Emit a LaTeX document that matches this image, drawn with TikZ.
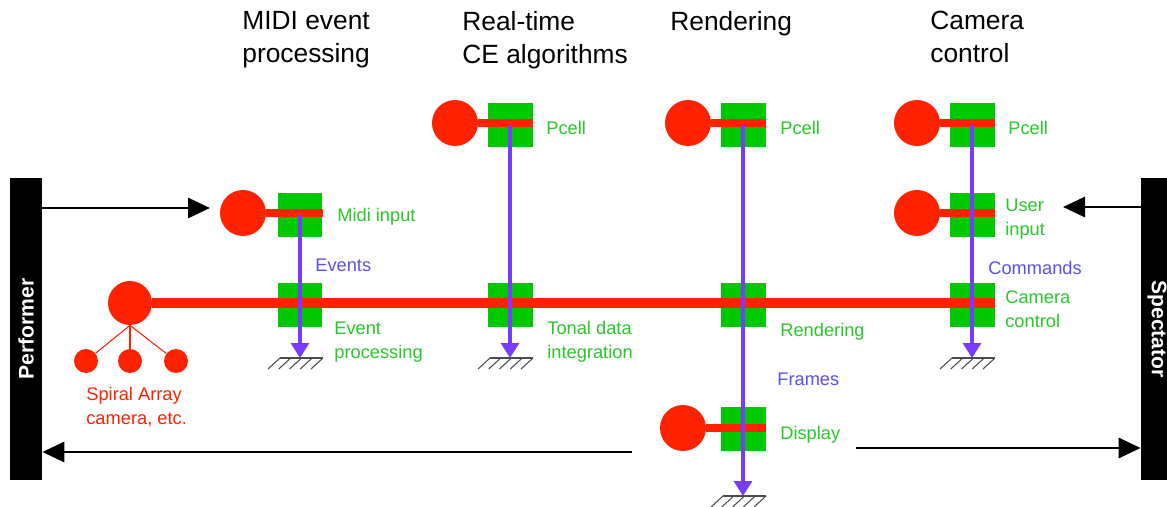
\documentclass[tikz,border=0pt]{standalone}
\usepackage{fontspec}
\setmainfont{Liberation Sans}
\usetikzlibrary{arrows.meta}

\definecolor{objred}{RGB}{255,34,0}
\definecolor{boxgreen}{RGB}{0,200,0}
\definecolor{flowviolet}{RGB}{120,60,255}
\definecolor{lblgreen}{RGB}{40,200,40}
\definecolor{lblviolet}{RGB}{90,80,230}

\tikzset{
  cell/.style={fill=boxgreen, minimum size=0.9cm, inner sep=0pt},
  obj/.style={circle, fill=objred, minimum size=0.92cm, inner sep=0pt},
  leaf/.style={circle, fill=objred, minimum size=0.48cm, inner sep=0pt},
  link/.style={objred, line width=0.15cm},
  bus/.style={objred, line width=0.2cm},
  flow/.style={flowviolet, line width=1.8pt, -{Triangle[length=0.3cm, width=0.36cm]}},
  io/.style={black, line width=1.7pt, -{Triangle[length=0.44cm, width=0.4cm]}},
  hatch/.style={black!70, line width=0.6pt},
  bar/.style={fill=black, text=white, font=\fontsize{12}{14}\selectfont\bfseries, inner sep=0pt},
  head/.style={anchor=north west, align=left, inner sep=0pt, font=\fontsize{15}{18.7}\selectfont},
  lbl/.style={anchor=west, align=left, inner sep=0pt, text=lblgreen, font=\fontsize{10.4}{13.6}\selectfont},
  msg/.style={anchor=west, inner sep=0pt, text=lblviolet, font=\fontsize{10.4}{13.6}\selectfont}
}

\begin{document}
\begin{tikzpicture}[x=0.02cm, y=-0.02cm]
    \useasboundingbox (0,0) rectangle (1167,507);

    % headings
    \node[head] at (242,11) (h1) {MIDI event\\processing};
    \node[head] at (462,11) (h2) {Real-time\\CE algorithms};
    \node[head] at (670,11) (h3) {Rendering};
    \node[head] at (930,11) (h4) {Camera\\control};

    % performer and spectator
    \node[bar, rotate=90, minimum width=6.04cm, minimum height=0.64cm] at (26,329) (perf) {Performer};
    \node[bar, rotate=-90, minimum width=6.04cm, minimum height=0.64cm] at (1157,329) (spec) {Spectator};

    % cells
    \node[cell] at (300,215) (midiin) {};
    \node[cell] at (300,305) (evproc) {};
    \node[cell] at (510,125) (pcalg) {};
    \node[cell] at (510,305) (tonal) {};
    \node[cell] at (743,125) (pcrend) {};
    \node[cell] at (743,305) (render) {};
    \node[cell] at (743,429) (display) {};
    \node[cell] at (972,125) (pccam) {};
    \node[cell] at (972,215) (userin) {};
    \node[cell] at (972,305) (camctl) {};

    % objects
    \node[obj] at (243,213) (midiobj) {};
    \node[obj] at (455,123) (algobj) {};
    \node[obj] at (688,123) (rendobj) {};
    \node[obj] at (917,123) (camobj) {};
    \node[obj] at (917,213) (userobj) {};
    \node[obj] at (683,428) (dispobj) {};
    \node[obj, minimum size=0.88cm] at (130,303) (hub) {};
    \node[leaf] at (86,361) (leafa) {};
    \node[leaf] at (130,361) (leafb) {};
    \node[leaf] at (176,361) (leafc) {};

    \draw[link] (midiobj) -- (midiobj -| midiin.east);
    \draw[link] (algobj) -- (algobj -| pcalg.east);
    \draw[link] (rendobj) -- (rendobj -| pcrend.east);
    \draw[link] (camobj) -- (camobj -| pccam.east);
    \draw[link] (userobj) -- (userobj -| userin.east);
    \draw[link] (dispobj) -- (dispobj -| display.east);
    \draw[bus] (hub) -- (hub -| camctl.east);
    \draw[objred, line width=0.6pt] (hub.south) -- (leafa);
    \draw[objred, line width=0.6pt] (hub.south) -- (leafb);
    \draw[objred, line width=0.6pt] (hub.south) -- (leafc);

    % flows to ground
    \coordinate (g1) at (300,358);
    \coordinate (g2) at (510,358);
    \coordinate (g3) at (743,496);
    \coordinate (g4) at (972,358);
    \draw[flow] (midiin.center) -- (g1);
    \draw[flow] (pcalg.center) -- (g2);
    \draw[flow] (pcrend.center) -- (g3);
    \draw[flow] (pccam.center) -- (g4);
    \foreach \g in {g1,g2,g3,g4} {
        \draw[hatch] (\g) ++(-20,0) -- ++(43,0);
        \foreach \k in {0,...,4}
            \draw[hatch] (\g) ++(-20+10.75*\k,0) -- ++(-12,11);
    }

    % input and output
    \coordinate (in1) at (210,208);
    \coordinate (in2) at (1063,207);
    \coordinate (out1) at (632,452);
    \coordinate (out2) at (856,448);
    \draw[io] (perf.south |- in1) -- (in1);
    \draw[io] (spec.south |- in2) -- (in2);
    \draw[io] (out1) -- (perf.south |- out1);
    \draw[io] (out2) -- (spec.south |- out2);

    % labels
    \node[lbl] at (337,217) (l1) {Midi input};
    \node[lbl] at (334,342) (l2) {Event\\processing};
    \node[lbl] at (546,128) (l3) {Pcell};
    \node[lbl] at (547,342) (l4) {Tonal data\\integration};
    \node[lbl] at (780,128) (l5) {Pcell};
    \node[lbl] at (780,332) (l6) {Rendering};
    \node[lbl] at (780,435) (l7) {Display};
    \node[lbl] at (1008,128) (l8) {Pcell};
    \node[lbl] at (1005,219) (l9) {User\\input};
    \node[lbl] at (1005,309) (l10) {Camera\\control};
    \node[msg] at (315,265) (m1) {Events};
    \node[msg] at (777,379) (m2) {Frames};
    \node[msg] at (988,268) (m3) {Commands};
    \node[lbl, text=objred] at (86,407) (l11) {Spiral Array\\camera, etc.};
        \end{tikzpicture}
\end{document}
